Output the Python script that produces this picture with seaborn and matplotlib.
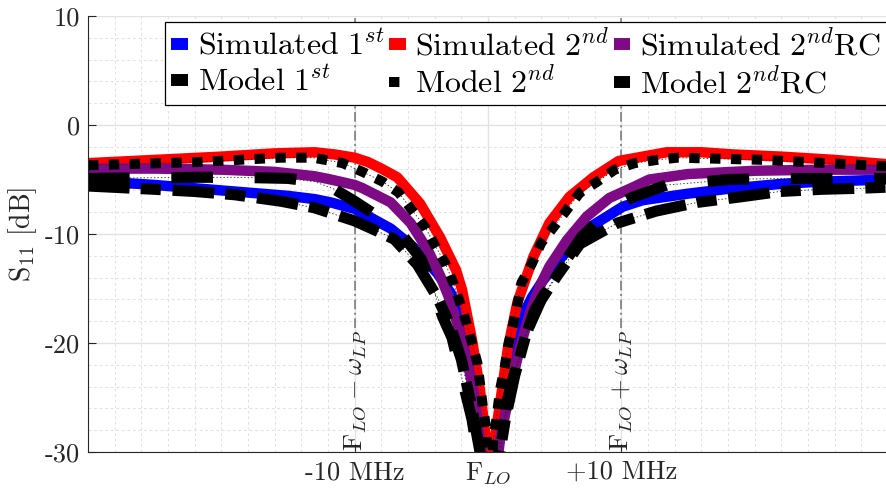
import matplotlib
matplotlib.use("Agg")
import matplotlib.pyplot as plt
import seaborn as sns
import pandas as pd
from matplotlib.lines import Line2D
from matplotlib.ticker import MultipleLocator, FixedLocator

# ---------------- data ----------------
sim1_x = [-30, -25, -20, -15, -13, -11.8, -10, -9.4, -7.3, -5.6, -3.8, -2.8, -2.1, -1.5, -0.9, -0.4, 0.15,
          0.7, 1.3, 2.0, 2.6, 3.3, 4.1, 5.6, 7.6, 10.1, 11.6, 15, 18.4, 22, 25, 30]
sim1_y = [-5.1, -5.5, -6.0, -6.5, -6.8, -7.1, -7.7, -8.1, -9.5, -11.2, -13.6, -15.4, -17.2, -20.5, -25.0, -29.0, -36,
          -29.0, -25.0, -20.5, -17.5, -15.8, -14.3, -12.0, -9.4, -7.5, -6.9, -6.3, -5.8, -5.4, -5.2, -5.0]

sim2_x = [-30, -25, -20, -16, -13, -11.5, -10, -9, -8, -6.8, -5.1, -3.6, -2.4, -1.95, -1.2, -0.6, -0.15, 0.15,
          0.5, 1.05, 1.5, 2.2, 3.4, 4.6, 6.1, 7.9, 9.8, 11.6, 13.4, 16, 18.4, 22, 26, 30]
sim2_y = [-3.5, -3.2, -2.9, -2.6, -2.5, -2.7, -3.0, -3.4, -4.0, -4.8, -7.2, -10.3, -13.3, -15.1, -19.7, -24.3, -28.9, -36,
          -28.9, -24.3, -20.4, -16.3, -12.1, -9.0, -6.6, -4.8, -3.3, -2.9, -2.5, -2.5, -2.7, -2.9, -3.2, -3.6]

simrc_x = [-30, -25, -20, -16, -13, -11.8, -10, -9.4, -7.3, -5.8, -4.5, -3.6, -3.0, -2.3, -1.6, -1.0, -0.6, 0.15,
           0.9, 1.65, 2.4, 3.2, 4.0, 4.6, 5.9, 7.4, 9.1, 10.9, 12.1, 15, 20, 25, 30]
simrc_y = [-4.0, -4.0, -4.1, -4.3, -4.7, -5.0, -5.5, -5.8, -7.1, -9.0, -11.5, -13.8, -15.6, -18.2, -21.3, -25.0, -28.9, -36,
           -28.9, -24.3, -20.4, -17.0, -14.5, -13.0, -10.6, -8.4, -6.7, -5.7, -5.0, -4.5, -4.2, -4.1, -4.1]

mod1_x = [-30, -25, -22, -19, -15.5, -13, -10, -8, -7, -5.3, -3.8, -2.8, -2.0, -1.2, -0.6, 0.2,
          0.9, 1.3, 2.0, 2.9, 4.0, 5.2, 6.9, 9.7, 12.6, 15.7, 18.9, 21.9, 25, 28, 30]
mod1_y = [-5.6, -5.9, -6.1, -6.4, -7.0, -7.6, -8.8, -9.9, -10.5, -12.8, -15.8, -18.5, -21.5, -26.0, -30.0, -36,
          -30.0, -27.0, -23.0, -19.0, -16.0, -13.8, -10.9, -9.0, -7.9, -7.1, -6.6, -6.1, -5.9, -5.8, -5.7]

mod2_x = [-30, -21.8, -15.6, -13.1, -10.9, -9.4, -7.9, -6.7, -5.7, -4.7, -4.0, -3.2, -2.6, -2.1, -1.6, -1.2,
          -0.8, -0.6, -0.4, -0.15, 0.15, 0.4, 0.65, 0.9, 1.25, 1.55, 1.9, 2.25, 2.5, 3.3, 4.0, 4.9, 5.9, 6.9,
          8.2, 9.5, 11.0, 12.7, 14.2, 17.4, 20.7, 23.9, 27, 30]
mod2_y = [-3.7, -3.4, -3.0, -3.0, -3.5, -4.3, -5.2, -6.2, -7.8, -9.4, -11.0, -12.7, -14.5, -16.3, -18.2, -20.0,
          -21.8, -23.7, -25.7, -27.7, -36, -28.9, -26.8, -24.3, -22.2, -20.0, -18.2, -16.2, -14.5, -12.7, -10.8,
          -9.4, -7.8, -6.2, -5.2, -4.1, -3.5, -3.2, -3.0, -3.1, -3.2, -3.4, -3.6, -3.8]

modrc_x = [-30, -22, -19, -15, -13, -11.5, -10, -8.5, -6.5, -5.0, -4.1, -3.4, -2.7, -2.0, -1.2, -0.8, 0.0,
           0.8, 1.5, 2.5, 3.5, 5.2, 7.0, 9.3, 10.7, 13.4, 15.5, 18, 22, 28, 30]
modrc_y = [-4.9, -4.8, -4.8, -4.9, -5.2, -5.9, -7.0, -8.2, -10.0, -12.3, -15.1, -17.6, -19.5, -23.0, -27.0, -30.0, -36,
           -30.0, -25.0, -20.5, -17.0, -13.6, -10.3, -7.6, -6.7, -5.5, -5.3, -5.0, -4.9, -4.9, -4.9]

labels = [r"$\mathrm{Simulated\ 1}^{st}$", r"$\mathrm{Simulated\ 2}^{nd}$", r"$\mathrm{Simulated\ 2}^{nd}\mathrm{RC}$",
          r"$\mathrm{Model\ 1}^{st}$", r"$\mathrm{Model\ 2}^{nd}$", r"$\mathrm{Model\ 2}^{nd}\mathrm{RC}$"]
xtick_vals = [-10, 0, 10]
xtick_labels = ["-10 MHz", r"$\mathrm{F}_{LO}$", "+10 MHz"]
ytick_vals = [10, 0, -10, -20, -30]
ytick_labels = ["10", "0", "-10", "-20", "-30"]

# ---------------- style ----------------
sns.set_theme(style="white")
plt.rcParams['mathtext.fontset'] = 'cm'
plt.rcParams['font.family'] = ['cmr10', 'DejaVu Serif']
plt.rcParams['axes.unicode_minus'] = False
plt.rcParams['lines.scale_dashes'] = False
plt.rcParams['axes.formatter.use_mathtext'] = True

fig = plt.figure(figsize=(8.86, 4.91), dpi=100)
ax = fig.add_axes([88 / 886, 1 - 452 / 491, 800 / 886, (452 - 16) / 491])

LW = 7.5
series = [
    (sim1_x, sim1_y, "#0000ff", LW),
    (sim2_x, sim2_y, "#ff0000", LW),
    (simrc_x, simrc_y, "#7e0a85", LW),
]
for xs, ys, c, lw in series:
    sns.lineplot(x=xs, y=ys, ax=ax, color=c, lw=lw, estimator=None, sort=False,
                 solid_capstyle="butt", solid_joinstyle="round")

d1 = (0, (30, 8, 14.5, 8.5))
d2 = (0, (7.5, 7.5))
drc = (0, (30, 30))
models = [
    (mod1_x, mod1_y, d1, 8.0),
    (mod2_x, mod2_y, d2, 7.2),
    (modrc_x, modrc_y, drc, 8.0),
]
for xs, ys, ds, lw in models:
    sns.lineplot(x=xs, y=ys, ax=ax, color="0.15", lw=0.6, linestyle=(0, (1, 1.5)),
                 estimator=None, sort=False)
for xs, ys, ds, lw in models:
    sns.lineplot(x=xs, y=ys, ax=ax, color="black", lw=lw, linestyle=ds,
                 estimator=None, sort=False, dash_capstyle="butt", dash_joinstyle="round")

# vertical markers at +-10 MHz
for xv, lab in [(-10, r"$\mathrm{F}_{LO}-\omega_{LP}$"), (10, r"$\mathrm{F}_{LO}+\omega_{LP}$")]:
    ax.plot([xv, xv], [-18.6, 10], color="0.45", lw=1.1, ls=(0, (7, 2.5, 1.5, 2.5)), zorder=1.5)
    ax.text(xv, -29.9, lab, rotation=90, ha="center", va="bottom", fontsize=19, color="#262626")

ax.set_xlim(-30, 30)
ax.set_ylim(-30, 10)
ax.xaxis.set_major_locator(FixedLocator(xtick_vals))
ax.set_xticklabels(xtick_labels)
ax.yaxis.set_major_locator(FixedLocator(ytick_vals))
ax.set_yticklabels(ytick_labels)
ax.xaxis.set_minor_locator(MultipleLocator(2))
ax.yaxis.set_minor_locator(MultipleLocator(2))

ax.set_axisbelow(True)
ax.grid(which="major", color="#e2e2e2", lw=1.0, ls="-")
ax.grid(which="minor", color="#e2e2e2", lw=0.8, ls=(0, (2, 2)))
ax.tick_params(which="major", direction="in", length=5.5, width=0.8, color="#262626",
               labelsize=19, labelcolor="#262626", pad=6, bottom=True, left=True)
ax.tick_params(which="minor", length=0)
for s in ["top", "right"]:
    ax.spines[s].set_visible(False)
for s in ["left", "bottom"]:
    ax.spines[s].set_color("#262626")
    ax.spines[s].set_linewidth(0.8)

ax.set_xlabel("")
ax.set_ylabel(r"$\mathrm{S}_{11}\ \mathrm{[dB]}$", fontsize=20, color="#262626", labelpad=4)

# legend
def sim_handle(c):
    return Line2D([], [], color=c, lw=8.6, solid_capstyle="butt")

def mod_handle(ds, lw):
    return Line2D([], [], color="black", lw=lw, linestyle=ds, dash_capstyle="butt")

h_sim = [sim_handle("#0000ff"), sim_handle("#ff0000"), sim_handle("#7e0a85")]
h_mod = [mod_handle(d1, 8.6), mod_handle(d2, 7.2), mod_handle(drc, 8.6)]
handles = [h_sim[0], h_mod[0], h_sim[1], h_mod[1], h_sim[2], h_mod[2]]
labs = [labels[0], labels[3], labels[1], labels[4], labels[2], labels[5]]
leg = fig.legend(handles, labs, ncol=3, loc="upper left",
                 bbox_to_anchor=(165 / 886, 1 - 22 / 491), bbox_transform=fig.transFigure,
                 fontsize=23, frameon=True, fancybox=False, framealpha=1, edgecolor="black",
                 borderpad=0.2, borderaxespad=0, handlelength=0.52, handletextpad=0.3,
                 columnspacing=0.15, labelspacing=0.15)
leg.get_frame().set_linewidth(0.9)
for t in leg.get_texts():
    t.set_color("#000000")

fig.savefig("out.png", dpi=100)
